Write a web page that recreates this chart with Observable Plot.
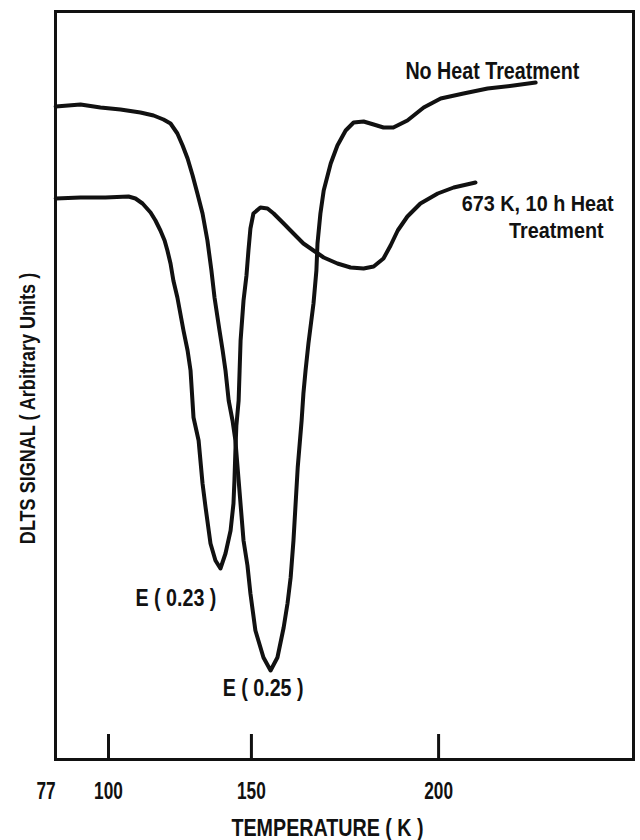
<!DOCTYPE html>
<html>
<head>
<meta charset="utf-8">
<script src="https://cdn.jsdelivr.net/npm/d3@7"></script>
<script src="https://cdn.jsdelivr.net/npm/@observablehq/plot@0.6"></script>
<style>
  html, body { margin: 0; padding: 0; background: #fff; }
</style>
</head>
<body>
<div id="chart"></div>
<script>
// Temperature (K) and DLTS signal (arbitrary units)
const noHeatT = [75.5, 87.7, 96.6, 104.9, 112.7, 117.6, 121.2, 123.7, 126.1, 127.9, 129.6, 131.3, 132.9, 134.6, 136.2, 137.5, 138.5, 140.1, 141.1, 142.0, 143.0, 144.2, 145.1, 146.1, 147.6, 148.8, 149.7, 151.2, 153.6, 155.7, 157.7, 159.5, 160.6, 161.5, 162.3, 163.5, 164.6, 165.1, 165.7, 166.5, 167.9, 168.7, 169.0, 169.8, 170.7, 172.6, 174.4, 176.6, 178.7, 181.3, 183.9, 186.4, 188.9, 192.4, 196.4, 200.5, 205.9, 211.5, 217.4, 222.3];
const noHeatSignal = [653, 655, 652, 650, 647, 644, 640, 636, 626, 614, 601, 584, 566, 546, 519, 489, 462, 429, 409, 389, 359, 339, 319, 279, 219, 194, 166, 129, 102, 89, 102, 132, 156, 182, 219, 292, 339, 366, 389, 416, 456, 489, 516, 546, 569, 596, 614, 629, 637, 638, 635, 632, 632, 639, 652, 661, 666, 671, 674, 677];

const annealT = [75.5, 87.7, 98.7, 108.1, 110.8, 113.5, 116.5, 118.3, 120.1, 121.6, 122.6, 123.7, 124.7, 126.1, 128.2, 129.6, 130.6, 131.6, 133.3, 134.6, 135.6, 137.2, 138.8, 140.4, 142.0, 143.6, 144.5, 144.8, 145.1, 145.4, 146.1, 146.4, 146.7, 147.6, 148.5, 149.1, 149.7, 150.6, 152.7, 154.8, 156.6, 159.5, 162.3, 165.1, 167.9, 170.7, 174.4, 177.9, 181.3, 183.9, 186.4, 188.2, 190.0, 192.4, 195.6, 199.8, 203.6, 208.7];
const annealSignal = [561, 562, 562, 563, 561, 556, 547, 539, 529, 519, 509, 496, 479, 462, 429, 409, 389, 342, 319, 276, 252, 216, 199, 191, 206, 229, 256, 279, 309, 334, 359, 389, 419, 459, 484, 509, 531, 546, 552, 551, 546, 536, 526, 516, 509, 502, 496, 492, 491, 493, 501, 514, 529, 543, 556, 566, 572, 577];

const seriesNames = ["No Heat Treatment", "673 K, 10 h Heat Treatment"];
const tickMarkValues = [100, 150, 200];
const tickLabelValues = [77, 100, 150, 200];
const xTitle = "TEMPERATURE ( K )";
const yTitle = "DLTS SIGNAL ( Arbitrary Units )";

// left-anchored labels
const leftText = ["No Heat Treatment", "E ( 0.23 )", "E ( 0.25 )"];
const leftT = [191.9, 110.8, 141.1];
const leftSignal = [688, 161, 71];
// right-anchored labels
const rightText = ["673 K, 10 h Heat", "Treatment"];
const rightT = [239.0, 236.9];
const rightSignal = [556, 529];

const curves = [
  ...noHeatT.map((t, i) => ({T: t, signal: noHeatSignal[i], series: seriesNames[0]})),
  ...annealT.map((t, i) => ({T: t, signal: annealSignal[i], series: seriesNames[1]}))
];
const leftLabels = leftText.map((s, i) => ({label: s, T: leftT[i], signal: leftSignal[i]}));
const rightLabels = rightText.map((s, i) => ({label: s, T: rightT[i], signal: rightSignal[i]}));

const font = "'Liberation Sans', Arial, sans-serif";
const ink = "#111";
const txt = {fontSize: 24, fontWeight: "bold", fill: ink};

const chart = Plot.plot({
  width: 640,
  height: 840,
  marginLeft: 55,
  marginRight: 7,
  marginTop: 11,
  marginBottom: 81,
  style: {fontFamily: font, background: "#fff", color: ink},
  x: {type: "pow", exponent: 1.8, domain: [75.4, 243.1], axis: null},
  y: {domain: [0, 748], axis: null},
  marks: [
    Plot.frame({stroke: ink, strokeWidth: 3}),
    Plot.ruleX(tickMarkValues, {x: d => d, y1: 0, y2: 25, stroke: ink, strokeWidth: 3}),
    Plot.line(curves, {x: "T", y: "signal", z: "series", stroke: ink, strokeWidth: 4, strokeLinejoin: "round", strokeLinecap: "round"}),
    Plot.text(tickLabelValues.slice(0, 1), {x: d => d, text: d => String(d), frameAnchor: "bottom", dy: 32, dx: -3, textAnchor: "end", lineAnchor: "middle", ...txt}),
    Plot.text(tickLabelValues.slice(1), {x: d => d, text: d => String(d), frameAnchor: "bottom", dy: 32, textAnchor: "middle", lineAnchor: "middle", ...txt}),
    Plot.text([xTitle], {frameAnchor: "bottom", dy: 69, dx: -17, textAnchor: "middle", lineAnchor: "middle", ...txt}),
    Plot.text([yTitle], {frameAnchor: "left", rotate: -90, dx: -28, dy: 23, textAnchor: "middle", lineAnchor: "middle", ...txt, fontSize: 22}),
    Plot.text(leftLabels, {x: "T", y: "signal", text: "label", textAnchor: "start", lineAnchor: "middle", ...txt}),
    Plot.text(rightLabels, {x: "T", y: "signal", text: "label", textAnchor: "end", lineAnchor: "middle", ...txt, fontSize: 22})
  ]
});

document.getElementById("chart").append(chart);

// condense the lettering like the original narrow bold typeface
const condenseFor = s => /^\d+$/.test(s) ? 0.72 : rightText.includes(s) ? 0.9 : 0.82;
d3.select(chart).selectAll("text").each(function () {
  const k = condenseFor(this.textContent.trim());
  const len = this.getComputedTextLength();
  if (len > 0) {
    this.setAttribute("textLength", (len * k).toFixed(1));
    this.setAttribute("lengthAdjust", "spacingAndGlyphs");
  }
});
</script>
</body>
</html>
